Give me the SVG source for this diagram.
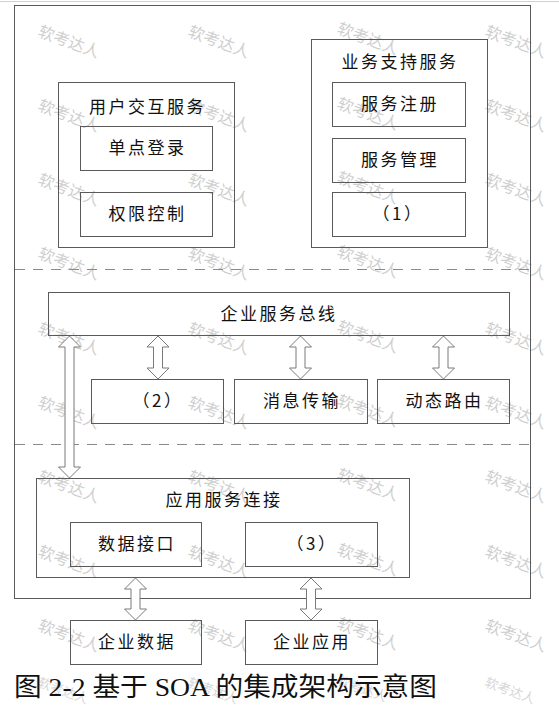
<svg xmlns="http://www.w3.org/2000/svg" width="559" height="705" viewBox="0 0 559 705">
<style>
.box{fill:none;stroke:#5a5a5a;stroke-width:1}
.t{font-family:"Noto Sans CJK SC","Liberation Sans",sans-serif;font-size:17px;fill:#111;text-anchor:middle;letter-spacing:2.5px}
.dash{stroke:#8a8a8a;stroke-width:1.2;stroke-dasharray:10 8;fill:none}
.arr{fill:#fff;stroke:#7a7a7a;stroke-width:1}
.wm{font-family:"Noto Sans CJK SC",sans-serif;font-size:16px;fill:#cfcfcf}
.wms{font-family:"Noto Sans CJK SC",sans-serif;font-size:13px;fill:#d6d6d6}
</style>
<rect x="0" y="0" width="559" height="705" fill="#fff"/>
<line x1="0" y1="1.5" x2="559" y2="1.5" stroke="#d0d0d0"/>
<g id="watermark">
<text class="wm" x="37" y="36" transform="rotate(20 37 36)">软考达人</text>
<text class="wm" x="187" y="36" transform="rotate(20 187 36)">软考达人</text>
<text class="wm" x="336" y="33" transform="rotate(20 336 33)">软考达人</text>
<text class="wm" x="484" y="36" transform="rotate(20 484 36)">软考达人</text>
<text class="wm" x="37" y="110" transform="rotate(20 37 110)">软考达人</text>
<text class="wm" x="187" y="110" transform="rotate(20 187 110)">软考达人</text>
<text class="wm" x="336" y="108" transform="rotate(20 336 108)">软考达人</text>
<text class="wm" x="484" y="110" transform="rotate(20 484 110)">软考达人</text>
<text class="wm" x="37" y="184" transform="rotate(20 37 184)">软考达人</text>
<text class="wm" x="187" y="184" transform="rotate(20 187 184)">软考达人</text>
<text class="wm" x="336" y="182" transform="rotate(20 336 182)">软考达人</text>
<text class="wm" x="484" y="184" transform="rotate(20 484 184)">软考达人</text>
<text class="wm" x="37" y="258" transform="rotate(20 37 258)">软考达人</text>
<text class="wm" x="187" y="258" transform="rotate(20 187 258)">软考达人</text>
<text class="wm" x="336" y="256" transform="rotate(20 336 256)">软考达人</text>
<text class="wm" x="484" y="258" transform="rotate(20 484 258)">软考达人</text>
<text class="wm" x="37" y="333" transform="rotate(20 37 333)">软考达人</text>
<text class="wm" x="187" y="333" transform="rotate(20 187 333)">软考达人</text>
<text class="wm" x="336" y="331" transform="rotate(20 336 331)">软考达人</text>
<text class="wm" x="484" y="333" transform="rotate(20 484 333)">软考达人</text>
<text class="wm" x="37" y="407" transform="rotate(20 37 407)">软考达人</text>
<text class="wm" x="187" y="407" transform="rotate(20 187 407)">软考达人</text>
<text class="wm" x="336" y="405" transform="rotate(20 336 405)">软考达人</text>
<text class="wm" x="484" y="407" transform="rotate(20 484 407)">软考达人</text>
<text class="wm" x="37" y="481" transform="rotate(20 37 481)">软考达人</text>
<text class="wm" x="187" y="481" transform="rotate(20 187 481)">软考达人</text>
<text class="wm" x="336" y="479" transform="rotate(20 336 479)">软考达人</text>
<text class="wm" x="484" y="481" transform="rotate(20 484 481)">软考达人</text>
<text class="wm" x="37" y="556" transform="rotate(20 37 556)">软考达人</text>
<text class="wm" x="187" y="556" transform="rotate(20 187 556)">软考达人</text>
<text class="wm" x="336" y="554" transform="rotate(20 336 554)">软考达人</text>
<text class="wm" x="484" y="556" transform="rotate(20 484 556)">软考达人</text>
<text class="wm" x="37" y="630" transform="rotate(20 37 630)">软考达人</text>
<text class="wm" x="187" y="630" transform="rotate(20 187 630)">软考达人</text>
<text class="wm" x="336" y="628" transform="rotate(20 336 628)">软考达人</text>
<text class="wm" x="484" y="630" transform="rotate(20 484 630)">软考达人</text>
<text class="wms" x="37" y="686" transform="rotate(20 37 686)">软考达人</text>
<text class="wms" x="187" y="686" transform="rotate(20 187 686)">软考达人</text>
<text class="wms" x="336" y="684" transform="rotate(20 336 684)">软考达人</text>
<text class="wms" x="484" y="686" transform="rotate(20 484 686)">软考达人</text>
</g>
<g id="frame">
<rect class="box" x="14.5" y="5.5" width="516" height="593"/>
<line class="dash" x1="15" y1="269.5" x2="530" y2="269.5"/>
<line class="dash" x1="15" y1="444.5" x2="530" y2="444.5"/>
</g>
<g id="user-interaction">
<rect class="box" x="58.5" y="82.5" width="176" height="165"/>
<text class="t" x="147.5" y="113">用户交互服务</text>
</g>
<g id="sso"><rect class="box" x="80.5" y="126.5" width="132" height="44"/><text class="t" x="147.5" y="154">单点登录</text></g>
<g id="access"><rect class="box" x="80.5" y="192.5" width="132" height="44"/><text class="t" x="147.5" y="220">权限控制</text></g>
<g id="business-support">
<rect class="box" x="311.5" y="39.5" width="176" height="208"/>
<text class="t" x="400" y="68">业务支持服务</text>
</g>
<g id="registry"><rect class="box" x="332.5" y="82.5" width="133" height="44"/><text class="t" x="400" y="110">服务注册</text></g>
<g id="management"><rect class="box" x="332.5" y="138.5" width="133" height="44"/><text class="t" x="400" y="166">服务管理</text></g>
<g id="blank1"><rect class="box" x="332.5" y="192.5" width="133" height="44"/><text class="t" x="398" y="220">（1）</text></g>
<g id="esb"><rect class="box" x="48.5" y="292.5" width="461" height="43"/><text class="t" x="279" y="319.5">企业服务总线</text></g>
<g id="blank2"><rect class="box" x="91.5" y="379.5" width="132" height="44"/><text class="t" x="158" y="407">（2）</text></g>
<g id="messaging"><rect class="box" x="234.5" y="379.5" width="133" height="44"/><text class="t" x="302" y="407">消息传输</text></g>
<g id="routing"><rect class="box" x="377.5" y="379.5" width="132" height="44"/><text class="t" x="444.5" y="407">动态路由</text></g>
<g id="app-connect">
<rect class="box" x="36.5" y="478.5" width="373" height="99"/>
<text class="t" x="224" y="506">应用服务连接</text>
</g>
<g id="data-interface"><rect class="box" x="70.5" y="522.5" width="131" height="44"/><text class="t" x="137" y="550">数据接口</text></g>
<g id="blank3"><rect class="box" x="245.5" y="522.5" width="132" height="44"/><text class="t" x="312" y="550">（3）</text></g>
<g id="enterprise-data"><rect class="box" x="70.5" y="620.5" width="131" height="44"/><text class="t" x="137" y="648">企业数据</text></g>
<g id="enterprise-app"><rect class="box" x="245.5" y="620.5" width="132" height="44"/><text class="t" x="312" y="648">企业应用</text></g>
<g id="connectors">
<path class="arr" d="M69.5,336 L80.5,347 L74,347 L74,467 L80.5,467 L69.5,478 L58.5,467 L65,467 L65,347 L58.5,347 Z"/>
<path class="arr" d="M158,336 L169,347 L162.5,347 L162.5,368 L169,368 L158,379 L147,368 L153.5,368 L153.5,347 L147,347 Z"/>
<path class="arr" d="M300.5,336 L311.5,347 L305,347 L305,368 L311.5,368 L300.5,379 L289.5,368 L296,368 L296,347 L289.5,347 Z"/>
<path class="arr" d="M443.5,336 L454.5,347 L448,347 L448,368 L454.5,368 L443.5,379 L432.5,368 L439,368 L439,347 L432.5,347 Z"/>
<path class="arr" d="M135.5,578 L146.5,589 L140,589 L140,609 L146.5,609 L135.5,620 L124.5,609 L131,609 L131,589 L124.5,589 Z"/>
<path class="arr" d="M311,578 L322,589 L315.5,589 L315.5,609 L322,609 L311,620 L300,609 L306.5,609 L306.5,589 L300,589 Z"/>
</g>
<text id="caption" x="14" y="696" font-family="'Liberation Serif','Noto Sans CJK SC',serif" font-size="26" fill="#111" textLength="423" lengthAdjust="spacingAndGlyphs">图 2-2 基于 SOA 的集成架构示意图</text>
</svg>
